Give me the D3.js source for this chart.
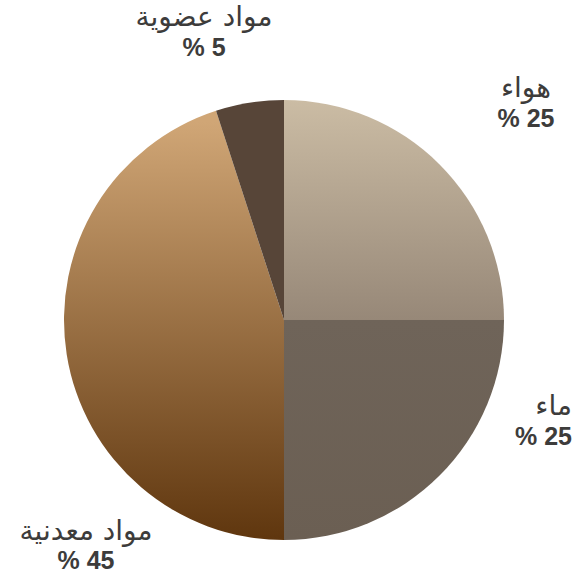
<!DOCTYPE html>
<html>
<head>
<meta charset="utf-8">
<script src="https://cdn.jsdelivr.net/npm/d3@7"></script>
<style>
	body { margin: 0; background: #fff; }
	svg { display: block; }
	.name { font-family: "DejaVu Sans", sans-serif; font-size: 28px; fill: #3d3c3b; }
	.pct { font-family: "Liberation Sans", Arial, sans-serif; font-size: 25px; font-weight: bold; fill: #3d3c3b; }
</style>
</head>
<body>
<div id="chart"></div>
<script>
// data
var categories = ["هواء", "ماء", "مواد معدنية", "مواد عضوية"];
var values = [25, 25, 45, 5];
var pctLabels = ["% 25", "% 25", "% 45", "% 5"];

// look
var _size = { width: 588, height: 579 };
var _center = { x: 284, y: 320 };
var _radius = 220;
var fills = [
	{ top: "#cbbca4", bottom: "#978878", y1: -1, y2: 0 },	// air
	{ top: "#6f6459", bottom: "#6b5f53", y1: 0, y2: 1 },	// water
	{ top: "#d0a676", bottom: "#5f360e", y1: -0.9, y2: 1 },	// minerals
	{ top: "#574538", bottom: "#574538", y1: -1, y2: 0 }	// organic
];
// label anchors, set by eye: [x, name baseline, pct baseline, anchor]
var labelPos = [
	[526, 97, 127, "middle"],
	[572, 415, 445, "end"],
	[86, 540, 569, "middle"],
	[204, 26, 56, "middle"]
];

var svg = d3.select("#chart").append("svg")
	.attr("width", _size.width)
	.attr("height", _size.height);

var defs = svg.append("defs");
fills.forEach(function (f, i) {
	var g = defs.append("linearGradient")
		.attr("id", "grad" + i)
		.attr("gradientUnits", "userSpaceOnUse")
		.attr("x1", 0).attr("x2", 0)
		.attr("y1", f.y1 * _radius).attr("y2", f.y2 * _radius);
	g.append("stop").attr("offset", "0%").attr("stop-color", f.top);
	g.append("stop").attr("offset", "100%").attr("stop-color", f.bottom);
});

var pie = d3.pie().sort(null).value(function (d) { return d; });
var arc = d3.arc().innerRadius(0).outerRadius(_radius);

svg.append("g")
	.attr("transform", "translate(" + _center.x + "," + _center.y + ")")
	.selectAll("path")
	.data(pie(values))
	.enter()
	.append("path")
	.attr("d", arc)
	.attr("fill", function (d, i) { return "url(#grad" + i + ")"; });

// names and percents as separate texts so bidi doesn't flip the numbers
var lbl = svg.append("g");
lbl.selectAll("text.name")
	.data(categories)
	.enter()
	.append("text")
	.attr("class", "name")
	.attr("text-anchor", function (d, i) { return labelPos[i][3]; })
	.attr("x", function (d, i) { return labelPos[i][0]; })
	.attr("y", function (d, i) { return labelPos[i][1]; })
	.text(function (d) { return d; });

lbl.selectAll("text.pct")
	.data(pctLabels)
	.enter()
	.append("text")
	.attr("class", "pct")
	.attr("text-anchor", function (d, i) { return labelPos[i][3]; })
	.attr("x", function (d, i) { return labelPos[i][0]; })
	.attr("y", function (d, i) { return labelPos[i][2]; })
	.text(function (d) { return d; });
</script>
</body>
</html>
